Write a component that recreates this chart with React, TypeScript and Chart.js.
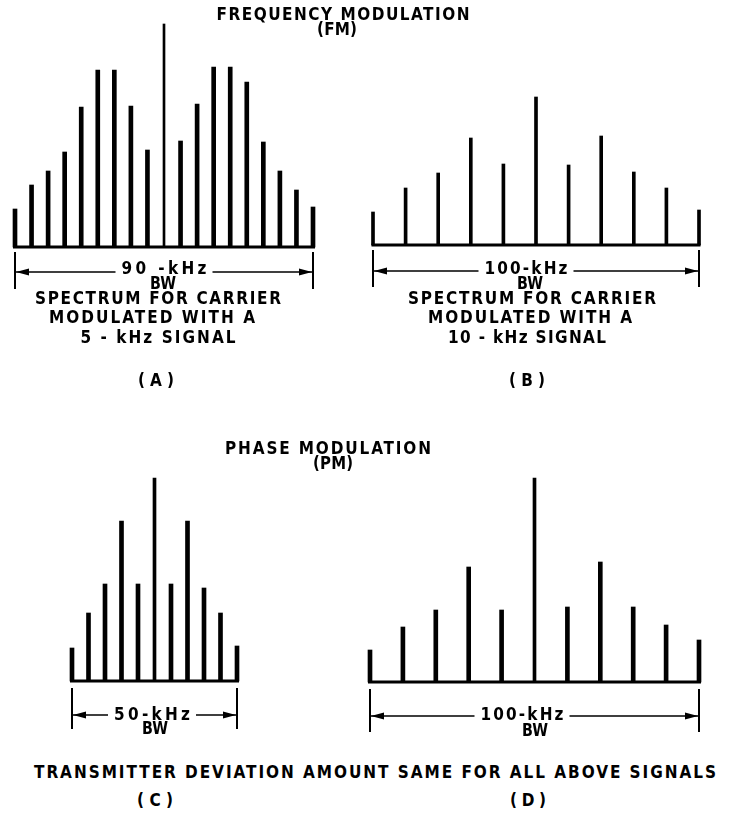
import React, { useEffect, useRef } from "react";
import { Chart, registerables } from "chart.js";

Chart.register(...registerables);

// ---------- data ----------
// sideband frequencies relative to the carrier, kHz
const A_FREQ_KHZ = [-45, -40, -35, -30, -25, -20, -15, -10, -5, 0, 5, 10, 15, 20, 25, 30, 35, 40, 45];
const A_AMPLITUDE = [38, 62, 76, 95, 140, 177, 177, 141, 97, 223, 106, 143, 180, 180, 165, 105, 76, 57, 40];

const B_FREQ_KHZ = [-50, -40, -30, -20, -10, 0, 10, 20, 30, 40, 50];
const B_AMPLITUDE = [33, 57, 72, 107, 81, 148, 80, 109, 73, 57, 35];

const C_FREQ_KHZ = [-25, -20, -15, -10, -5, 0, 5, 10, 15, 20, 25];
const C_AMPLITUDE = [33, 68, 97, 160, 97, 203, 97, 160, 93, 68, 35];

const D_FREQ_KHZ = [-50, -40, -30, -20, -10, 0, 10, 20, 30, 40, 50];
const D_AMPLITUDE = [32, 55, 72, 115, 72, 204, 75, 120, 75, 57, 42];

const BW_LABELS = ["90 -kHz", "100-kHz", "50-kHz", "100-kHz"];
const BW_UNIT = "BW";
const PANEL_LETTERS = ["(A)", "(B)", "(C)", "(D)"];
const SECTION_TITLES = ["FREQUENCY MODULATION", "(FM)", "PHASE MODULATION", "(PM)"];
const CAPTION_A = ["SPECTRUM FOR CARRIER", "MODULATED WITH A", "5 - kHz SIGNAL"];
const CAPTION_B = ["SPECTRUM FOR CARRIER", "MODULATED WITH A", "10 - kHz SIGNAL"];
const FOOTNOTE = "TRANSMITTER DEVIATION AMOUNT SAME FOR ALL ABOVE SIGNALS";

const AMP_MAX = 230;

// ---------- layout ----------
type Panel = {
  freqs: number[];
  amps: number[];
  bw: string;
  left: number; top: number; w: number; h: number;
  x0: number; x1: number; baseline: number;
  side: number; carrier: number;
  labelCx: number; labelW: number; unitCx: number;
  tick0: number; tick1: number; arrowDy: number; labelDy: number; unitDy: number;
};

const PANELS: Panel[] = [
  { freqs: A_FREQ_KHZ, amps: A_AMPLITUDE, bw: BW_LABELS[0], left: 0, top: 0, w: 340, h: 310, x0: 15, x1: 313, baseline: 247, side: 4, carrier: 2,
    labelCx: 164, labelW: 85, unitCx: 163, tick0: 5, tick1: 42, arrowDy: 25, labelDy: 21, unitDy: 36 },
  { freqs: B_FREQ_KHZ, amps: B_AMPLITUDE, bw: BW_LABELS[1], left: 350, top: 0, w: 380, h: 310, x0: 373, x1: 699, baseline: 245, side: 3, carrier: 3,
    labelCx: 526, labelW: 83, unitCx: 530, tick0: 5, tick1: 42, arrowDy: 26, labelDy: 23, unitDy: 38 },
  { freqs: C_FREQ_KHZ, amps: C_AMPLITUDE, bw: BW_LABELS[2], left: 40, top: 440, w: 240, h: 320, x0: 72, x1: 237, baseline: 681, side: 4, carrier: 3,
    labelCx: 152, labelW: 76, unitCx: 155, tick0: 7, tick1: 48, arrowDy: 34, labelDy: 33, unitDy: 47 },
  { freqs: D_FREQ_KHZ, amps: D_AMPLITUDE, bw: BW_LABELS[3], left: 350, top: 440, w: 380, h: 320, x0: 370, x1: 699, baseline: 682, side: 4, carrier: 3,
    labelCx: 522, labelW: 83, unitCx: 535, tick0: 7, tick1: 50, arrowDy: 34, labelDy: 32, unitDy: 48 },
];

type TextItem = { t: string; cx: number; cy: number; w: number };

const TEXTS: TextItem[] = [
  { t: SECTION_TITLES[0], cx: 343, cy: 14, w: 253 },
  { t: SECTION_TITLES[1], cx: 337, cy: 29, w: 40 },
  { t: CAPTION_A[0], cx: 158, cy: 298, w: 246 },
  { t: CAPTION_A[1], cx: 152, cy: 317, w: 206 },
  { t: CAPTION_A[2], cx: 158, cy: 337, w: 155 },
  { t: PANEL_LETTERS[0], cx: 156, cy: 380, w: 36 },
  { t: CAPTION_B[0], cx: 532, cy: 298, w: 248 },
  { t: CAPTION_B[1], cx: 530, cy: 317, w: 204 },
  { t: CAPTION_B[2], cx: 527, cy: 337, w: 158 },
  { t: PANEL_LETTERS[1], cx: 527, cy: 380, w: 36 },
  { t: SECTION_TITLES[2], cx: 328, cy: 448, w: 206 },
  { t: SECTION_TITLES[3], cx: 333, cy: 463, w: 40 },
  { t: FOOTNOTE, cx: 375, cy: 772, w: 682 },
  { t: PANEL_LETTERS[2], cx: 155, cy: 800, w: 36 },
  { t: PANEL_LETTERS[3], cx: 528, cy: 800, w: 36 },
];

const FONT_FAMILY = '"Liberation Sans Narrow", "DejaVu Sans Condensed", "Liberation Sans", sans-serif';
const FONT_SIZE = 17;
const INK = "#000";

let measureCtx: CanvasRenderingContext2D | null = null;
function measure(text: string, size: number): number {
  if (!measureCtx) measureCtx = document.createElement("canvas").getContext("2d");
  if (!measureCtx) return text.length * size * 0.55;
  measureCtx.font = `bold ${size}px ${FONT_FAMILY}`;
  return measureCtx.measureText(text).width;
}

function FittedText({ item }: { item: TextItem }) {
  const n = Math.max(1, item.t.length - 1);
  const natural = measure(item.t, FONT_SIZE);
  let ls = (item.w - natural) / n;
  let sx = 1;
  if (ls < 0.2) {
    ls = 0.2;
    sx = item.w / (natural + ls * n);
  }
  return (
    <div
      style={{
        position: "absolute",
        left: item.cx - item.w / 2,
        top: item.cy - FONT_SIZE * 0.5,
        height: FONT_SIZE,
        lineHeight: `${FONT_SIZE}px`,
        fontFamily: FONT_FAMILY,
        fontWeight: "bold",
        fontSize: FONT_SIZE,
        letterSpacing: `${ls}px`,
        whiteSpace: "nowrap",
        color: INK,
        transform: sx !== 1 ? `scaleX(${sx})` : undefined,
        transformOrigin: "left center",
      }}
    >
      {item.t}
    </div>
  );
}

const bandwidthPlugin = {
  id: "bandwidth",
  afterDatasetsDraw(chart: any) {
    const p: Panel = chart.options.plugins.bandwidth.panel;
    const ctx: CanvasRenderingContext2D = chart.ctx;
    const xs = chart.scales.x;
    const ys = chart.scales.y;
    const xl = xs.getPixelForValue(p.freqs[0]);
    const xr = xs.getPixelForValue(p.freqs[p.freqs.length - 1]);
    const yb = ys.getPixelForValue(0);
    ctx.save();
    ctx.strokeStyle = INK;
    ctx.fillStyle = INK;
    // baseline
    ctx.lineWidth = 3;
    ctx.beginPath();
    ctx.moveTo(xl - p.side / 2, yb);
    ctx.lineTo(xr + p.side / 2, yb);
    ctx.stroke();
    // end ticks
    ctx.lineWidth = 2;
    ctx.beginPath();
    ctx.moveTo(xl, yb + p.tick0);
    ctx.lineTo(xl, yb + p.tick1);
    ctx.moveTo(xr, yb + p.tick0);
    ctx.lineTo(xr, yb + p.tick1);
    ctx.stroke();
    // arrow line with gap for the label
    const ya = yb + p.arrowDy;
    const gl = p.labelCx - p.labelW / 2 - p.left - 6;
    const gr = p.labelCx + p.labelW / 2 - p.left + 6;
    ctx.lineWidth = 1.6;
    ctx.beginPath();
    ctx.moveTo(xl, ya);
    ctx.lineTo(gl, ya);
    ctx.moveTo(gr, ya);
    ctx.lineTo(xr, ya);
    ctx.stroke();
    // arrowheads
    ctx.beginPath();
    ctx.moveTo(xl + 1, ya);
    ctx.lineTo(xl + 14, ya - 3.5);
    ctx.lineTo(xl + 14, ya + 3.5);
    ctx.closePath();
    ctx.moveTo(xr - 1, ya);
    ctx.lineTo(xr - 14, ya - 3.5);
    ctx.lineTo(xr - 14, ya + 3.5);
    ctx.closePath();
    ctx.fill();
    ctx.restore();
  },
};

function SpectrumChart({ panel }: { panel: Panel }) {
  const ref = useRef<HTMLCanvasElement | null>(null);
  useEffect(() => {
    if (!ref.current) return;
    const points = panel.freqs.map((f, i) => ({ x: f, y: panel.amps[i] }));
    const side = points.filter((d) => d.x !== 0);
    const carrier = points.filter((d) => d.x === 0);
    const chart = new Chart(ref.current, {
      type: "bar",
      data: {
        datasets: [
          { data: side, backgroundColor: INK, barThickness: panel.side, grouped: false, clip: false } as any,
          { data: carrier, backgroundColor: INK, barThickness: panel.carrier, grouped: false, clip: false } as any,
        ],
      },
      options: {
        animation: false,
        responsive: false,
        devicePixelRatio: 1,
        events: [],
        layout: {
          padding: {
            left: panel.x0 - panel.left,
            right: panel.left + panel.w - panel.x1,
            top: panel.baseline - panel.top - AMP_MAX,
            bottom: panel.top + panel.h - panel.baseline,
          },
        },
        scales: {
          x: { type: "linear", display: false, offset: false, min: panel.freqs[0], max: panel.freqs[panel.freqs.length - 1] },
          y: { type: "linear", display: false, min: 0, max: AMP_MAX },
        },
        plugins: {
          legend: { display: false },
          tooltip: { enabled: false },
          bandwidth: { panel },
        } as any,
      },
      plugins: [bandwidthPlugin],
    });
    return () => chart.destroy();
  }, [panel]);
  return (
    <canvas
      ref={ref}
      width={panel.w}
      height={panel.h}
      style={{ position: "absolute", left: panel.left, top: panel.top, width: panel.w, height: panel.h }}
    />
  );
}

export default function App() {
  const bwTexts: TextItem[] = [];
  PANELS.forEach((p) => {
    bwTexts.push({ t: p.bw, cx: p.labelCx, cy: p.baseline + p.labelDy, w: p.labelW });
    bwTexts.push({ t: BW_UNIT, cx: p.unitCx, cy: p.baseline + p.unitDy, w: 26 });
  });
  return (
    <div
      style={{
        position: "absolute",
        left: 0,
        top: 0,
        width: 738,
        height: 824,
        background: "#fff",
        overflow: "hidden",
      }}
    >
      {PANELS.map((p, i) => (
        <SpectrumChart key={i} panel={p} />
      ))}
      {TEXTS.concat(bwTexts).map((t, i) => (
        <FittedText key={i} item={t} />
      ))}
    </div>
  );
}
